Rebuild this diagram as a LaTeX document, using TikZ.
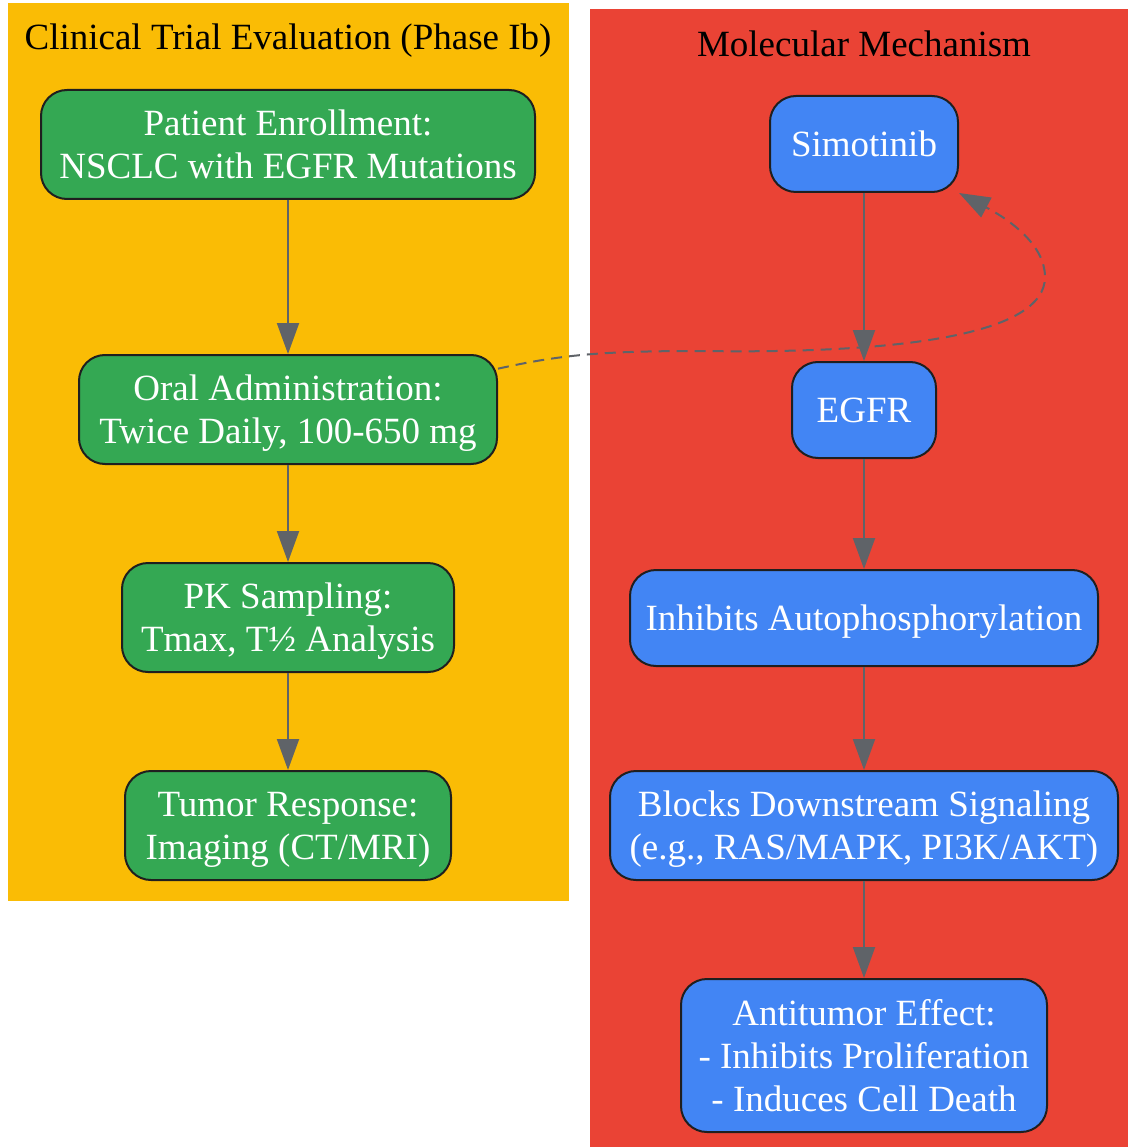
\documentclass[tikz,border=0pt]{standalone}
\usepackage{fontspec}
\setmainfont{Liberation Serif}
\usetikzlibrary{arrows.meta}
\definecolor{cyellow}{HTML}{FABC05}
\definecolor{cred}{HTML}{EA4335}
\definecolor{cgreen}{HTML}{34A853}
\definecolor{cblue}{HTML}{4285F4}
\definecolor{cborder}{HTML}{1F1F1F}
\definecolor{cedge}{HTML}{5F6368}
\newcommand{\lnstrut}{\rule[-8.3pt]{0pt}{41.6pt}}
\begin{document}
\begin{tikzpicture}[x=1pt,y=-1pt,
  nodebox/.style={draw=cborder, line width=2pt, rounded corners=26pt, text=white,
    align=center, font=\fontsize{37}{43}\selectfont, inner sep=0pt},
  gbox/.style={nodebox, fill=cgreen},
  bbox/.style={nodebox, fill=cblue},
  edge/.style={draw=cedge, line width=2pt, -{Triangle[length=31pt,width=22pt]}},
  dedge/.style={edge, dash pattern=on 11pt off 7pt},
  cltitle/.style={font=\fontsize{37}{43}\selectfont, text=black, anchor=base, inner sep=0pt}]
\useasboundingbox (0,0) rectangle (1128,1147);
% clusters
\fill[cyellow] (8,3) rectangle (569,901);
\fill[cred] (590,9) rectangle (1128,1147);
\node[cltitle] (t1) at (288,50) {Clinical Trial Evaluation (Phase Ib)};
\node[cltitle] (t2) at (864,56.5) {Molecular Mechanism};
% left nodes
\node[gbox, minimum width=494pt, minimum height=109pt] (enroll) at (288,144.5) {\lnstrut Patient Enrollment:\\NSCLC with EGFR Mutations\lnstrut};
\node[gbox, minimum width=418pt, minimum height=109pt] (oral) at (288,409.5) {\lnstrut Oral Administration:\\Twice Daily, 100-650 mg\lnstrut};
\node[gbox, minimum width=332pt, minimum height=109pt] (pk) at (288,617.5) {\lnstrut PK Sampling:\\Tmax, T½ Analysis\lnstrut};
\node[gbox, minimum width=326pt, minimum height=109pt] (tumor) at (288,825.5) {\lnstrut Tumor Response:\\Imaging (CT/MRI)\lnstrut};
% right nodes
\node[bbox, minimum width=188pt, minimum height=96pt] (simo) at (864,144) {\lnstrut Simotinib};
\node[bbox, minimum width=144pt, minimum height=96pt] (egfr) at (864,410) {\lnstrut EGFR};
\node[bbox, minimum width=468pt, minimum height=96pt] (inhib) at (864,618) {\lnstrut Inhibits Autophosphorylation};
\node[bbox, minimum width=508pt, minimum height=109pt] (blocks) at (864,825.5) {\lnstrut Blocks Downstream Signaling\\(e.g., RAS/MAPK, PI3K/AKT)\lnstrut};
\node[bbox, minimum width=366pt, minimum height=153pt] (anti) at (864,1055.5) {\lnstrut Antitumor Effect:\\- Inhibits Proliferation\\- Induces Cell Death\lnstrut};
% edges
\draw[edge] (enroll) -- (oral);
\draw[edge] (oral) -- (pk);
\draw[edge] (pk) -- (tumor);
\draw[edge] (simo) -- (egfr);
\draw[edge] (egfr) -- (inhib);
\draw[edge] (inhib) -- (blocks);
\draw[edge] (blocks) -- (anti);
\draw[dedge] (oral.11.5) .. controls (560,355) and (600,351) .. (700,351)
  .. controls (900,354) and (1045,335) .. (1045,277)
  .. controls (1045,245) and (1010,220) .. (simo.south east);
\end{tikzpicture}
\end{document}
